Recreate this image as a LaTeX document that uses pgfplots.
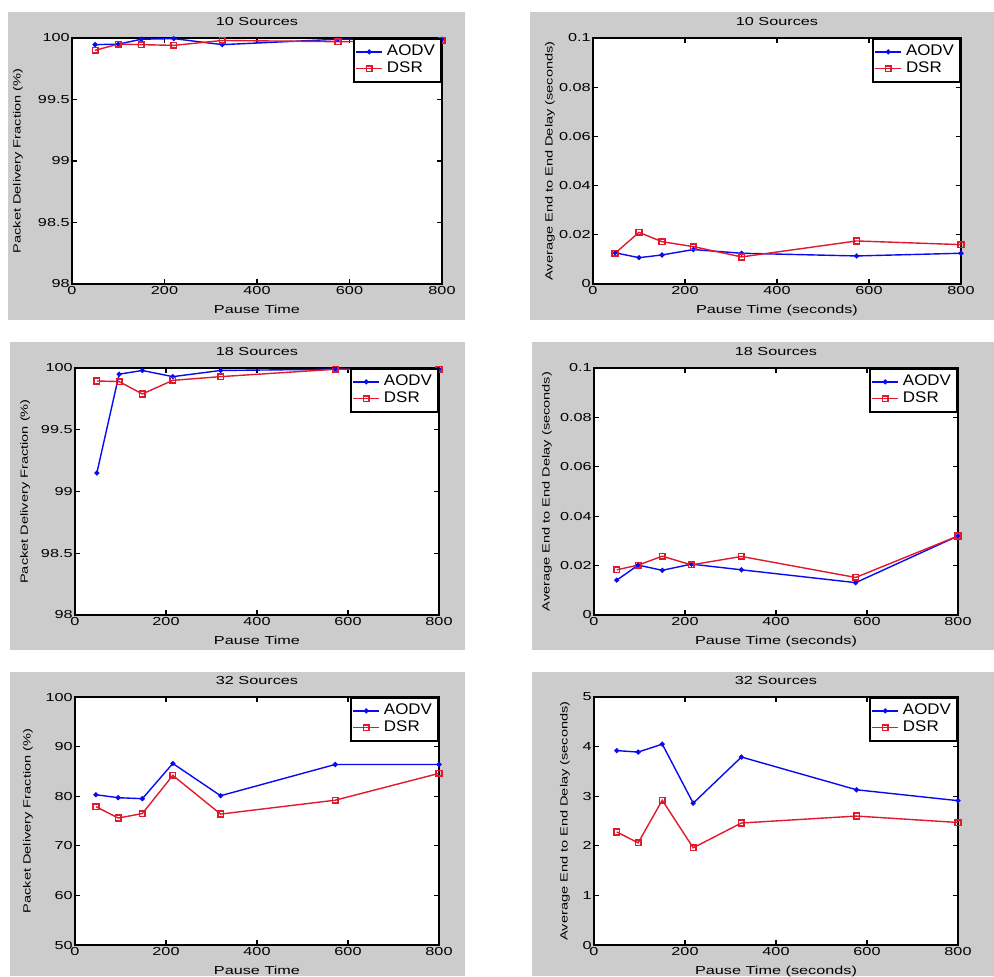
\documentclass[border=0pt]{standalone}
\usepackage{fontspec}
\setmainfont{Liberation Sans}[FakeStretch=1.4]
\newfontfamily\legfont{Liberation Sans}[FakeStretch=1.1]
\usepackage{pgfplots}
\pgfplotsset{compat=1.18}
\definecolor{figgray}{RGB}{204,204,204}
\definecolor{mblue}{RGB}{10,10,240}
\definecolor{mred}{RGB}{225,25,45}
\pgfplotsset{
  legend image code/.code={\draw[mark repeat=2, mark phase=2, line width=0.7pt, #1] plot coordinates {(0pt,0pt) (6.5pt,0pt) (13pt,0pt)};},
}
\pgfplotsset{
  panel/.style={
    scale only axis, xmin=0, xmax=800, xtick={0,200,400,600,800},
    tick align=inside, tick pos=both, xticklabel pos=lower, yticklabel pos=left,
    major tick length=2.5pt,
    every tick/.style={black, line width=0.6pt},
    axis line style={black, line width=1pt},
    axis background/.style={fill=white},
    ticklabel style={font=\fontsize{5.8}{6}\selectfont},
    xticklabel style={inner sep=1pt},
    yticklabel style={inner sep=1pt},
    /pgf/number format/assume math mode=true,
    scaled y ticks=false,
    every axis title shift=0pt,
    title style={font=\fontsize{5.8}{6}\selectfont, at={(axis description cs:0.5,1)}, anchor=base, yshift=6.4pt, inner sep=0pt},
    xlabel style={font=\fontsize{5.8}{6}\selectfont, at={(axis description cs:0.5,0)}, anchor=base, yshift=-14.6pt, inner sep=0pt},
    ylabel style={font=\fontsize{5.2}{6}\selectfont, anchor=center, inner sep=0pt},
    clip=false,
    legend style={at={(1,1)}, anchor=north east, draw=black, line width=1pt, fill=white,
      font=\legfont\fontsize{7.7}{8}\selectfont, inner sep=1pt, row sep=-2.5pt},
    legend cell align=left,
    every axis plot/.append style={line width=0.7pt},
  },
  ylab/.style={ylabel style={at={(axis description cs:#1,0.5)}}},
  aodv/.style={color=mblue, mark=*, mark size=0.9pt, mark options={solid}},
  dsr/.style={color=mred, mark=square, mark size=1.4pt, mark options={solid, line width=0.8pt}},
  pdf/.style={ylabel={Packet Delivery Fraction (\%)}, xlabel={Pause Time}},
  dly/.style={ylabel={Average End to End Delay (seconds)}, xlabel={Pause Time (seconds)},
    yticklabel style={/pgf/number format/fixed, /pgf/number format/precision=2}},
}
\begin{document}
\begin{tikzpicture}[x=1pt,y=1pt]
\useasboundingbox (0,0) rectangle (497,488);
\fill[figgray] (4,328) rectangle (232.5,482);
\fill[figgray] (265,328) rectangle (497,482);
\fill[figgray] (5,163) rectangle (232.5,317);
\fill[figgray] (266,163) rectangle (497,317);
\fill[figgray] (5,0) rectangle (232.5,152);
\fill[figgray] (266,0) rectangle (497,152);

% Panel 1
\begin{axis}[panel, pdf, ylab=-0.146, at={(36pt,346pt)}, anchor=south west, width=185pt, height=123pt,
  ymin=98, ymax=100, ytick={98,98.5,99,99.5,100}, title={10 Sources}]
\addplot[aodv] coordinates {(50,99.946)(100,99.95)(150,99.99)(220,99.995)(325,99.946)(575,99.99)(800,99.99)};
\addplot[dsr] coordinates {(50,99.90)(100,99.95)(150,99.946)(220,99.94)(325,99.98)(575,99.97)(800,99.98)};
\legend{AODV,DSR}
\end{axis}

% Panel 2
\begin{axis}[panel, dly, ylab=-0.117, at={(296.5pt,346pt)}, anchor=south west, width=184pt, height=123pt,
  ymin=0, ymax=0.1, ytick={0,0.02,0.04,0.06,0.08,0.1}, title={10 Sources}]
\addplot[aodv] coordinates {(48,0.0127)(100,0.0107)(150,0.0118)(218,0.014)(323,0.0125)(573,0.0114)(800,0.0125)};
\addplot[dsr] coordinates {(48,0.0125)(100,0.021)(150,0.0172)(218,0.0152)(323,0.011)(573,0.0175)(800,0.016)};
\legend{AODV,DSR}
\end{axis}

% Panel 3
\begin{axis}[panel, pdf, ylab=-0.137, at={(37.5pt,180.5pt)}, anchor=south west, width=182pt, height=123.5pt,
  ymin=98, ymax=100, ytick={98,98.5,99,99.5,100}, title={18 Sources}]
\addplot[aodv] coordinates {(48,99.15)(97,99.95)(148,99.98)(215,99.93)(320,99.98)(572,99.99)(800,99.99)};
\addplot[dsr] coordinates {(48,99.895)(97,99.89)(148,99.79)(215,99.90)(320,99.93)(572,99.99)(800,99.99)};
\legend{AODV,DSR}
\end{axis}

% Panel 4
\begin{axis}[panel, dly, ylab=-0.129, at={(297pt,180.5pt)}, anchor=south west, width=182pt, height=123.5pt,
  ymin=0, ymax=0.1, ytick={0,0.02,0.04,0.06,0.08,0.1}, title={18 Sources}]
\addplot[aodv] coordinates {(50,0.0141)(97,0.0202)(150,0.0181)(214,0.0206)(324,0.0183)(575,0.0131)(800,0.032)};
\addplot[dsr] coordinates {(50,0.0183)(97,0.0202)(150,0.0238)(214,0.0203)(324,0.0237)(575,0.0152)(800,0.032)};
\legend{AODV,DSR}
\end{axis}

% Panel 5
\begin{axis}[panel, pdf, ylab=-0.129, at={(37.5pt,15.5pt)}, anchor=south west, width=182pt, height=124pt,
  ymin=50, ymax=100, ytick={50,60,70,80,90,100}, title={32 Sources}]
\addplot[aodv] coordinates {(46,80.3)(95,79.7)(148,79.5)(215,86.6)(320,80.1)(572,86.4)(800,86.4)};
\addplot[dsr] coordinates {(46,77.9)(95,75.6)(148,76.5)(215,84.2)(320,76.4)(572,79.2)(800,84.6)};
\legend{AODV,DSR}
\end{axis}

% Panel 6
\begin{axis}[panel, dly, ylab=-0.08, at={(297pt,15.5pt)}, anchor=south west, width=182pt, height=124pt,
  ymin=0, ymax=5, ytick={0,1,2,3,4,5}, title={32 Sources},
  yticklabel style={/pgf/number format/precision=0}]
\addplot[aodv] coordinates {(50,3.92)(97,3.89)(150,4.05)(218,2.86)(324,3.79)(577,3.13)(800,2.91)};
\addplot[dsr] coordinates {(50,2.28)(97,2.06)(150,2.92)(218,1.96)(324,2.46)(577,2.6)(800,2.47)};
\legend{AODV,DSR}
\end{axis}
\end{tikzpicture}
\end{document}
